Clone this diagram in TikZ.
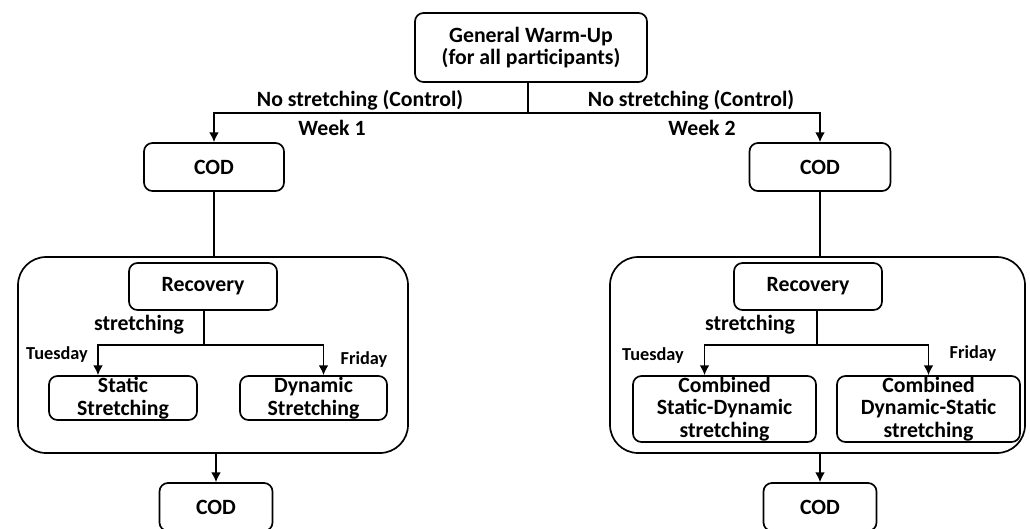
\documentclass[tikz,border=0pt]{standalone}
\usepackage{fontspec}
\setmainfont{Carlito}
\usetikzlibrary{arrows.meta, positioning}

\begin{document}
\begin{tikzpicture}[x=0.025cm, y=-0.025cm, line width=1.2pt,
  >={Latex[length=7pt,width=7pt]},
  every node/.style={font=\bfseries\fontsize{15.5}{16}\selectfont},
  stagebox/.style={rectangle, rounded corners=6pt, draw=black, inner sep=0pt,
    text centered, align=center},
  weekframe/.style={rectangle, rounded corners=20pt, draw=black, inner sep=0pt},
  daylabel/.style={font=\bfseries\fontsize{13}{14}\selectfont}]

\clip (0,0) rectangle (1030,528);

% frames for the two weeks
\node[weekframe, minimum width=390*0.025cm, minimum height=196*0.025cm]
(frame-one) at (213, 355) {};

\node[weekframe, minimum width=415*0.025cm, minimum height=196*0.025cm]
(frame-two) at (817.5, 355) {};

\node[stagebox, minimum width=232*0.025cm, minimum height=69*0.025cm]
(warmup) at (531, 47.5)
{General Warm-Up\\(for all participants)};

\node[stagebox, minimum width=140*0.025cm, minimum height=48*0.025cm]
(cod-one) at (214, 167)
{COD};

\node[stagebox, minimum width=141*0.025cm, minimum height=48*0.025cm]
(cod-two) at (820, 167)
{COD};

\node[stagebox, minimum width=148*0.025cm, minimum height=47*0.025cm]
(recovery-one) at (203, 286.5)
{Recovery};

\node[stagebox, minimum width=148*0.025cm, minimum height=47*0.025cm]
(recovery-two) at (808, 286.5)
{Recovery};

\node[stagebox, minimum width=148*0.025cm, minimum height=44*0.025cm]
(static) at (123, 398)
{Static\\Stretching};

\node[stagebox, minimum width=147*0.025cm, minimum height=44*0.025cm]
(dynamic) at (313.5, 398)
{Dynamic\\Stretching};

\node[stagebox, minimum width=183*0.025cm, minimum height=66*0.025cm]
(static-dynamic) at (724.5, 409)
{Combined\\Static-Dynamic\\stretching};

\node[stagebox, minimum width=183*0.025cm, minimum height=66*0.025cm]
(dynamic-static) at (928.5, 409)
{Combined\\Dynamic-Static\\stretching};

\node[stagebox, minimum width=113*0.025cm, minimum height=48*0.025cm]
(cod-three) at (216, 507)
{COD};

\node[stagebox, minimum width=113*0.025cm, minimum height=48*0.025cm]
(cod-four) at (820, 507)
{COD};

% branching points
\coordinate (split-top) at (528, 113);
\coordinate (split-one) at (204, 345);
\coordinate (split-two) at (817, 345);

\draw (warmup.south -| split-top) -- (split-top);
\draw[->] (split-top) -| (cod-one.north);
\draw[->] (split-top) -| (cod-two.north);

\draw (cod-one.south) -- (frame-one.north -| cod-one.south);
\draw (cod-two.south) -- (frame-two.north -| cod-two.south);

\draw (recovery-one.south -| split-one) -- (split-one);
\draw[->] (split-one) -| ([xshift=-25*0.025cm]static.north);
\draw[->] (split-one) -| ([xshift=10*0.025cm]dynamic.north);

\draw (recovery-two.south -| split-two) -- (split-two);
\draw[->] (split-two) -| ([xshift=-20*0.025cm]static-dynamic.north);
\draw[->] (split-two) -| (dynamic-static.north);

\draw[->] (frame-one.south -| cod-three.north) -- (cod-three.north);
\draw[->] (frame-two.south -| cod-four.north) -- (cod-four.north);

% labels
\node (control-one) at (360, 100) {No stretching (Control)};
\node (control-two) at (691, 100) {No stretching (Control)};
\node (week-one) at (332, 128) {Week 1};
\node (week-two) at (702, 128) {Week 2};
\node (stretch-one) at (139, 325) {stretching};
\node (stretch-two) at (750, 325) {stretching};
\node[daylabel] (tuesday-one) at (57, 355) {Tuesday};
\node[daylabel] (friday-one) at (364, 360) {Friday};
\node[daylabel] (tuesday-two) at (653, 356) {Tuesday};
\node[daylabel] (friday-two) at (973, 354) {Friday};

\end{tikzpicture}
\end{document}
